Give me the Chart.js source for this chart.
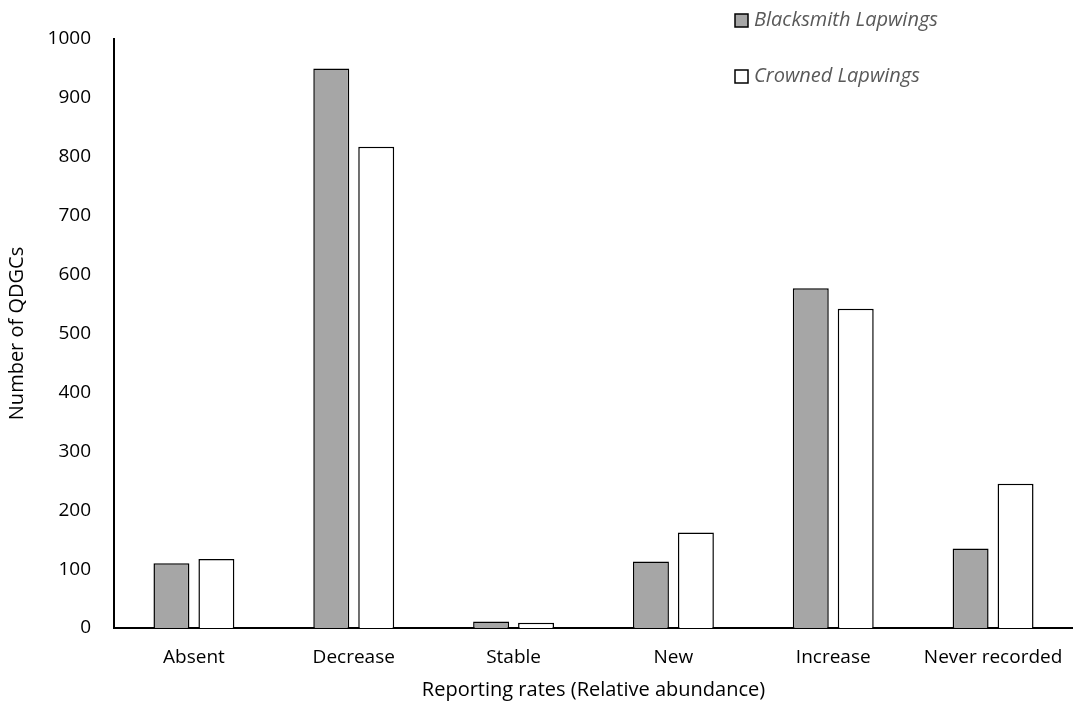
<!DOCTYPE html>
<html>
<head>
<meta charset="utf-8">
<script src="https://cdn.jsdelivr.net/npm/chart.js@4.4.1/dist/chart.umd.min.js"></script>
<style>
    html, body { margin: 0; padding: 0; background: #fff; }
    #wrap { width: 1073px; height: 713px; position: relative; }
</style>
</head>
<body>
<div id="wrap"><canvas id="lapwingChart"></canvas></div>
<script>
var categories = ['Absent', 'Decrease', 'Stable', 'New', 'Increase', 'Never recorded'];
var blacksmith = [110, 950, 11, 113, 577, 135];
var crowned = [117, 817, 9, 162, 542, 245];
var seriesNames = ['Blacksmith Lapwings', 'Crowned Lapwings'];
var yTicks = [0, 100, 200, 300, 400, 500, 600, 700, 800, 900, 1000];

var FONT = '"Open Sans", Lato, sans-serif';

// legend drawn in the top-right corner, stacked, like the original
var cornerLegend = {
    id: 'cornerLegend',
    afterDraw: function (chart) {
        var ctx = chart.ctx;
        var rows = [20.5, 76.5];
        ctx.save();
        chart.data.datasets.forEach(function (ds, i) {
            var y = rows[i];
            ctx.fillStyle = ds.backgroundColor;
            ctx.strokeStyle = '#000';
            ctx.lineWidth = 1.5;
            ctx.fillRect(735, y - 6.5, 13, 13);
            ctx.strokeRect(735, y - 6.5, 13, 13);
            ctx.fillStyle = '#595959';
            ctx.font = 'italic 20px ' + FONT;
            ctx.textBaseline = 'middle';
            ctx.textAlign = 'left';
            ctx.fillText(ds.label, 754, y);
        });
        ctx.restore();
    }
};

new Chart(document.getElementById('lapwingChart').getContext('2d'), {
    type: 'bar',
    data: {
        labels: categories,
        datasets: [
            {
                label: seriesNames[0],
                data: blacksmith,
                backgroundColor: '#a6a6a6',
                borderColor: '#000',
                borderWidth: 1.5,
                categoryPercentage: 0.5625,
                barPercentage: 0.8
            },
            {
                label: seriesNames[1],
                data: crowned,
                backgroundColor: '#ffffff',
                borderColor: '#000',
                borderWidth: 1.5,
                categoryPercentage: 0.5625,
                barPercentage: 0.8
            }
        ]
    },
    options: {
        responsive: true,
        maintainAspectRatio: false,
        animation: false,
        layout: { padding: { top: 39, right: 0, left: 0, bottom: 0 } },
        plugins: {
            legend: { display: false },
            tooltip: { enabled: false }
        },
        scales: {
            x: {
                grid: { display: false, drawTicks: false },
                border: { color: '#000', width: 2 },
                ticks: { color: '#000', font: { family: FONT, size: 19 }, padding: 18, maxRotation: 0 },
                title: {
                    display: true,
                    text: 'Reporting rates (Relative abundance)',
                    color: '#000',
                    font: { family: FONT, size: 20 },
                    padding: { top: 0, bottom: 11 }
                },
                afterFit: function (scale) {
                    scale.height = 85;
                    // let the axis run to the right edge like the original
                    scale.paddingLeft = 0;
                    scale.paddingRight = 0;
                }
            },
            y: {
                min: 0,
                max: 1000,
                afterBuildTicks: function (scale) {
                    scale.ticks = yTicks.map(function (v) { return { value: v }; });
                },
                grid: { display: false, drawTicks: false },
                border: { color: '#000', width: 2 },
                ticks: {
                    color: '#000',
                    font: { family: FONT, size: 19 },
                    padding: 23,
                    callback: function (v) { return String(v); }
                },
                title: {
                    display: true,
                    text: 'Number of QDGCs',
                    color: '#000',
                    font: { family: FONT, size: 20 },
                    padding: { top: 5, bottom: 0 }
                },
                afterFit: function (scale) { scale.width = 114; }
            }
        }
    },
    plugins: [cornerLegend]
});
</script>
</body>
</html>
